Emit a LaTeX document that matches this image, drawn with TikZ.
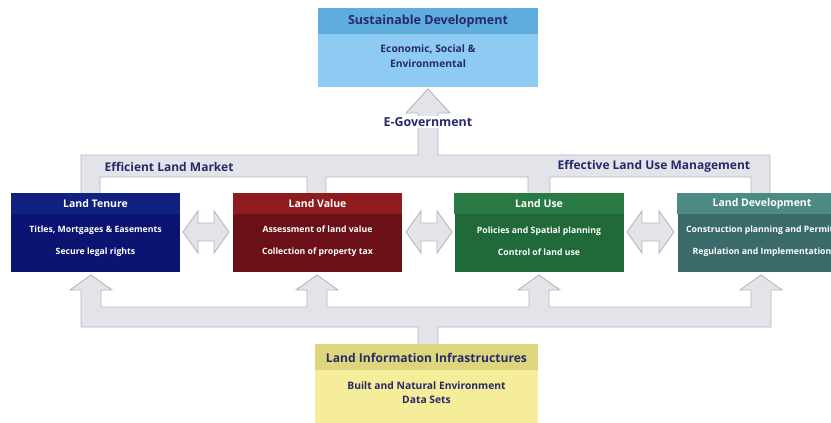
\documentclass[tikz,border=0pt]{standalone}
\usepackage{fontspec}
\setmainfont{Open Sans}
\usetikzlibrary{calc}

\definecolor{pipefill}{HTML}{E3E3EA}
\definecolor{pipeline}{HTML}{B6B6C3}
\definecolor{labelblue}{HTML}{262A68}
\definecolor{sdhead}{HTML}{5FACDF}
\definecolor{sdbody}{HTML}{8DCBF3}
\definecolor{liihead}{HTML}{DDD67D}
\definecolor{liibody}{HTML}{F5ED99}
\definecolor{tenurehead}{HTML}{12207F}
\definecolor{tenurebody}{HTML}{0B1470}
\definecolor{valuehead}{HTML}{8E1C1E}
\definecolor{valuebody}{HTML}{6A1016}
\definecolor{usehead}{HTML}{2A7A44}
\definecolor{usebody}{HTML}{1F6A38}
\definecolor{devhead}{HTML}{4C8A84}
\definecolor{devbody}{HTML}{3A6A6A}

\begin{document}
\begin{tikzpicture}[x=1pt,y=-1pt,
   pipe/.style={fill=pipefill,draw=pipeline,line width=0.9pt,line join=miter},
   landbox/.style={minimum width=169pt,minimum height=79pt,inner sep=0pt},
   boxtitle/.style={text=white,font=\bfseries\fontsize{10.5}{12}\selectfont},
   boxtext/.style={text=white,align=center,font=\bfseries\fontsize{8.7}{22}\selectfont},
   mainlabel/.style={text=labelblue,font=\bfseries\fontsize{12}{14}\selectfont}]
   \clip (0,0) rectangle (831,423);
   \fill[white] (0,0) rectangle (831,423);
   % pipe from the four land functions up to e-government
   \draw[pipe] (81,194) -- (81,155) -- (418,155) -- (418,113) -- (406,113) -- (428,89)
      -- (450,113) -- (438,113) -- (438,155) -- (770,155) -- (770,194) -- (751,194)
      -- (751,177) -- (550,177) -- (550,194) -- (528,194) -- (528,177) -- (326,177)
      -- (326,194) -- (307,194) -- (307,177) -- (100,177) -- (100,194);
   % pipe from the infrastructures up to the land functions
   \draw[pipe] (81,327) -- (81,290) -- (70,290) -- (91,275) -- (112,290) -- (101,290)
      -- (101,307) -- (307,307) -- (307,290) -- (296,290) -- (317,275) -- (338,290)
      -- (327,290) -- (327,307) -- (529,307) -- (529,290) -- (518,290) -- (539,275)
      -- (560,290) -- (549,290) -- (549,307) -- (751,307) -- (751,290) -- (740,290)
      -- (761,275) -- (782,290) -- (771,290) -- (771,327) -- (438,327) -- (438,345)
      -- (418,345) -- (418,327) -- cycle;
   % double arrows between the boxes
   \foreach \xa/\xb in {183/229,406/452,627/674}
      \draw[pipe] (\xa,232) -- (\xa+15,211) -- (\xa+15,223) -- (\xb-15,223) -- (\xb-15,211)
         -- (\xb,232) -- (\xb-15,253) -- (\xb-15,241) -- (\xa+15,241) -- (\xa+15,253) -- cycle;

   % sustainable development
   \node[minimum width=220pt,minimum height=79pt,inner sep=0pt,fill=sdbody] (sd) at (428,47.5) {};
   \fill[sdhead] (sd.north west) rectangle ($(sd.north east)+(0,26)$);
   \node[text=labelblue,font=\bfseries\fontsize{12.5}{14}\selectfont] (sd-title) at ($(sd.north)+(0,13)$) {Sustainable Development};
   \node[text=labelblue,align=center,font=\bfseries\fontsize{10.3}{15}\selectfont] (sd-text) at ($(sd.north)+(0,48)$) {Economic, Social \&\\Environmental};
   \node[mainlabel,fill=white,inner sep=1pt,font=\bfseries\fontsize{12.4}{14}\selectfont] (egov) at (428,122) {E-Government};

   \node[mainlabel,anchor=west] (market) at (101,167) {Efficient Land Market};
   \node[mainlabel,anchor=west] (management) at (554,166) {Effective Land Use Management};

   % the four land functions
   \node[landbox,fill=tenurebody] (tenure) at (95.5,232.5) {};
   \fill[tenurehead] (tenure.north west) rectangle ($(tenure.north east)+(0,21)$);
   \node[boxtitle] (tenure-title) at ($(tenure.north)+(0,11)$) {Land Tenure};
   \node[boxtext] (tenure-text) at ($(tenure.north)+(0,48)$) {Titles, Mortgages \& Easements\\Secure legal rights};

   \node[landbox,fill=valuebody] (value) at (317.5,232.5) {};
   \fill[valuehead] (value.north west) rectangle ($(value.north east)+(0,21)$);
   \node[boxtitle] (value-title) at ($(value.north)+(0,11)$) {Land Value};
   \node[boxtext] (value-text) at ($(value.north)+(0,48)$) {Assessment of land value\\Collection of property tax};

   \node[landbox,fill=usebody] (use) at (539,232.5) {};
   \fill[usehead] (use.north west) rectangle ($(use.north east)+(0,21)$);
   \node[boxtitle] (use-title) at ($(use.north)+(0,11)$) {Land Use};
   \node[boxtext] (use-text) at ($(use.north)+(0,48)$) {Policies and Spatial planning\\Control of land use};

   \node[landbox,fill=devbody] (dev) at (762,232.5) {};
   \fill[devhead] (dev.north west) rectangle ($(dev.north east)+(0,21)$);
   \node[boxtitle] (dev-title) at ($(dev.north)+(0,11)$) {Land Development};
   \node[boxtext] (dev-text) at ($(dev.north)+(0,48)$) {Construction planning and Permits\\Regulation and Implementation};

   % land information infrastructures
   \node[minimum width=223pt,minimum height=80pt,inner sep=0pt,fill=liibody] (lii) at (426.5,384) {};
   \fill[liihead] (lii.north west) rectangle ($(lii.north east)+(0,26)$);
   \node[text=labelblue,font=\bfseries\fontsize{12.1}{14}\selectfont] (lii-title) at ($(lii.north)+(0,14)$) {Land Information Infrastructures};
   \node[text=labelblue,align=center,font=\bfseries\fontsize{10.3}{14}\selectfont] (lii-text) at ($(lii.north)+(0,49)$) {Built and Natural Environment\\Data Sets};
\end{tikzpicture}
\end{document}
